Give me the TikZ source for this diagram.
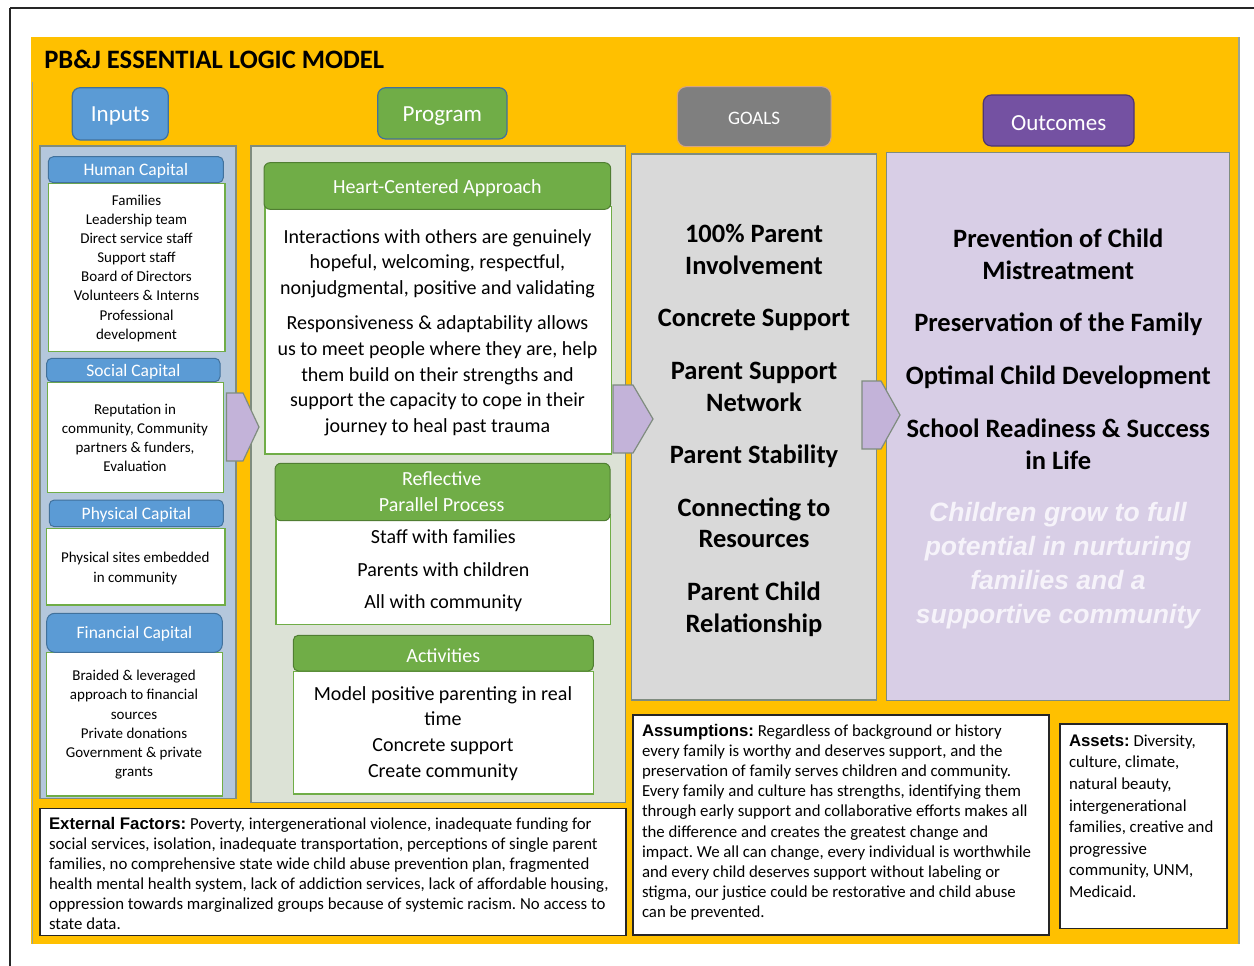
\documentclass[tikz,border=0pt]{standalone}
\usepackage{fontspec}
\setmainfont{Carlito}
\newfontfamily\arialfont{Liberation Sans}
\frenchspacing

\definecolor{bgyellow}{HTML}{FFC000}
\definecolor{blueA}{HTML}{5B9BD5}
\definecolor{blueB}{HTML}{41719C}
\definecolor{greenA}{HTML}{70AD47}
\definecolor{greenB}{HTML}{507E32}
\definecolor{panelIn}{HTML}{B4C7DC}
\definecolor{panelProg}{HTML}{DCE2D6}
\definecolor{panelGoal}{HTML}{D9D9D9}
\definecolor{panelOut}{HTML}{D8CEE6}
\definecolor{panelEdge}{HTML}{7F8C7F}
\definecolor{chevFill}{HTML}{C3B3D9}
\definecolor{greyBtn}{HTML}{7F7F7F}
\definecolor{greyBtnEdge}{HTML}{D8A47E}
\definecolor{purpleBtn}{HTML}{7451A2}
\definecolor{purpleBtnEdge}{HTML}{4F3573}
\definecolor{softwhite}{HTML}{F6F3FA}

% box given by its two corners: name, style, x1, y1, x2, y2
\newcommand\rectnode[6]{%
  \node[#2, anchor=north west, minimum width={#5-#3}, minimum height={#6-#4}] (#1) at (#3,#4) {};}

\begin{document}
\begin{tikzpicture}[x=1pt, y=-1pt,
  every node/.style={inner sep=0pt, outer sep=0pt},
  panel/.style={draw=panelEdge, line width=1.5pt},
  bluehead/.style={draw=blueB, fill=blueA, line width=1pt, rounded corners=5pt},
  greenhead/.style={draw=greenB, fill=greenA, line width=1pt, rounded corners=6pt},
  headlabel/.style={text=white, font=\fontsize{17.5}{21}\selectfont, yshift=-1.5pt},
  biglabel/.style={text=white, font=\fontsize{#1}{24}\selectfont, yshift=-2.5pt},
  content/.style={draw=greenA, fill=white, line width=1.2pt},
  note/.style={draw=black!85, fill=white, line width=1.3pt},
  chevron/.style={draw=panelEdge, fill=chevFill, line width=1.2pt},
  blk/.style={align=center, anchor=north},
  smalltxt/.style={blk, font=\fontsize{15}{#1}\selectfont},
  bigtxt/.style={blk, font=\fontsize{20}{#1}\selectfont},
  goaltxt/.style={blk, font=\fontsize{26.5}{#1}\selectfont\bfseries},
  notetxt/.style={align=left, anchor=north west, font=\fontsize{16.8}{#1}\selectfont},
]
\useasboundingbox (0,0) rectangle (1254,966);

% outer frame and yellow sheet
\draw[line width=2pt, black!85] (10,8.5) -- (1254,8.5);
\draw[line width=2pt, black!85] (10,8.5) -- (10,966);
\rectnode{sheet}{fill=bgyellow}{31}{37}{1239}{944}
\draw[panelEdge!80, line width=1.2pt] (32.3,81.7) -- (32.3,944);
\draw[panelEdge!80, line width=1.5pt] (1239,37) -- (1239,944);

\node[anchor=base west, font=\fontsize{26.6}{30}\selectfont\bfseries] (title) at (44.3,68.3) {PB\&J ESSENTIAL LOGIC MODEL};

% column buttons
\rectnode{bInputs}{draw=blueB, fill=blueA, line width=1.2pt, rounded corners=8pt}{72.3}{87.7}{168.3}{140}
\node[biglabel=23] at (bInputs.center) {Inputs};
\rectnode{bProgram}{draw=blueB, fill=greenA, line width=1.2pt, rounded corners=8pt}{377.7}{87.7}{507}{139}
\node[biglabel=23] at (bProgram.center) {Program};
\rectnode{bGoals}{draw=greyBtnEdge, fill=greyBtn, line width=1pt, rounded corners=9pt}{677.3}{86.7}{831}{146.7}
\node[biglabel=19, yshift=1pt] at (bGoals.center) {GOALS};
\rectnode{bOutcomes}{draw=purpleBtnEdge, fill=purpleBtn, line width=1.2pt, rounded corners=8pt}{983.3}{95}{1134}{146}
\node[biglabel=23] at (bOutcomes.center) {Outcomes};

% ---------------- Inputs column ----------------
\rectnode{pInputs}{panel, fill=panelIn}{40}{146}{236}{798.3}

\rectnode{hcBox}{content}{48.3}{183.3}{225}{351.7}
\rectnode{hcHead}{bluehead}{48.3}{156.7}{223.3}{182.7}
\node[headlabel] at (hcHead.center) {Human Capital};
\node[smalltxt=19.1] (hcText) at (136.5,192.1) {\strut Families\\Leadership team\\Direct service staff\\Support staff\\Board of Directors\\Volunteers \& Interns\\Professional\\development};

\rectnode{scBox}{content}{47.3}{382.3}{223.3}{492.7}
\rectnode{scHead}{bluehead}{46.7}{358.3}{220}{381.7}
\node[headlabel] at (scHead.center) {Social Capital};
\node[smalltxt=19] (scText) at (135,400.7) {\strut Reputation in\\community, Community\\partners \& funders,\\Evaluation};

\rectnode{pcBox}{content}{46.7}{528.3}{225}{605}
\rectnode{pcHead}{bluehead}{49.3}{500}{223.3}{526.7}
\node[headlabel] at (pcHead.center) {Physical Capital};
\node[smalltxt=20] (pcText) at (135.3,548.7) {\strut Physical sites embedded\\in community};

\rectnode{fcBox}{content}{46.7}{652.3}{222.3}{796}
\rectnode{fcHead}{bluehead, rounded corners=8pt}{46.7}{613.3}{222.3}{652.3}
\node[headlabel] at (fcHead.center) {Financial Capital};
\node[smalltxt=19.2] (fcText) at (134,667.3) {\strut Braided \& leveraged\\approach to financial\\sources\\Private donations\\Government \& private\\grants};

% ---------------- Program column ----------------
\rectnode{pProgram}{panel, fill=panelProg}{251}{146}{625.7}{802.7}

\rectnode{hcaBox}{content}{265}{206.7}{611.7}{454}
\rectnode{hcaHead}{greenhead}{264}{162.7}{610.7}{209.3}
\node[biglabel=20] at (hcaHead.center) {Heart-Centered Approach};
\node[bigtxt=25.6] (hcaText) at (437.5,225.3) {\strut Interactions with others are genuinely\\hopeful, welcoming, respectful,\\nonjudgmental, positive and validating\\[9.8pt]Responsiveness \& adaptability allows\\us to meet people where they are, help\\them build on their strengths and\\support the capacity to cope in their\\journey to heal past trauma};

\rectnode{rppBox}{content}{276}{515}{610.7}{624.3}
\rectnode{rppHead}{greenhead}{275}{463.3}{610}{520.7}
\node[blk, text=white, font=\fontsize{20}{26}\selectfont] (rppTitle) at (441.7,467.3) {\strut Reflective\\Parallel Process};
\node[bigtxt=32.4] (rppText) at (443.3,521.1) {\strut Staff with families\\Parents with children\\All with community};

\rectnode{actBox}{content}{293.3}{671.7}{593.3}{794}
\rectnode{actHead}{greenhead, rounded corners=5pt}{293.3}{635.3}{593.3}{671}
\node[biglabel=20] at (actHead.center) {Activities};
\node[bigtxt=25.8] (actText) at (443,682) {\strut Model positive parenting in real\\time\\Concrete support\\Create community};

% ---------------- Goals column ----------------
\rectnode{pGoals}{panel, fill=panelGoal}{631.7}{154}{876.7}{700}
\node[goaltxt=31.7] (goalText) at (754,220.6) {\strut 100\% Parent\\Involvement\\[20.8pt]Concrete Support\\[20.8pt]Parent Support\\Network\\[20.8pt]Parent Stability\\[20.8pt]Connecting to\\Resources\\[20.8pt]Parent Child\\Relationship};

% ---------------- Outcomes column ----------------
\rectnode{pOutcomes}{panel, fill=panelOut}{886.7}{152.7}{1229.3}{700.7}
\node[goaltxt=31.8] (outText) at (1058.3,225) {\strut Prevention of Child\\Mistreatment\\[21pt]Preservation of the Family\\[21pt]Optimal Child Development\\[21pt]School Readiness \& Success\\in Life};
\node[blk, text=softwhite, font=\arialfont\fontsize{26.5}{34.2}\selectfont\bfseries\itshape] (vision) at (1058,497.4) {\strut Children grow to full\\potential in nurturing\\families and a\\supportive community};

% ---------------- flow chevrons ----------------
\draw[chevron] (226.5,393) -- (243,393) -- (259,427) -- (243,461) -- (226.5,461) -- cycle;
\draw[chevron] (613,385) -- (633,385) -- (653,419) -- (633,453) -- (613,453) -- cycle;
\draw[chevron] (862,381) -- (881,381) -- (900,415) -- (881,449) -- (862,449) -- cycle;

% ---------------- notes ----------------
\rectnode{extBox}{note}{40}{808.3}{626}{935.3}
\node[notetxt=19.9] (extText) at (49,816) {\strut{\arialfont\bfseries External Factors:} Poverty, intergenerational violence, inadequate funding for\\social services, isolation, inadequate transportation, perceptions of single parent\\families, no comprehensive state wide child abuse prevention plan, fragmented\\health mental health system, lack of addiction services, lack of affordable housing,\\oppression towards marginalized groups because of systemic racism. No access to\\state data.};

\rectnode{assumBox}{note}{633}{715}{1049}{935}
\node[notetxt=20.15] (assumText) at (642,722.2) {\strut{\arialfont\bfseries Assumptions:} Regardless of background or history\\every family is worthy and deserves support, and the\\preservation of family serves children and community.\\Every family and culture has strengths, identifying them\\through early support and collaborative efforts makes all\\the difference and creates the greatest change and\\impact. We all can change, every individual is worthwhile\\and every child deserves support without labeling or\\stigma, our justice could be restorative and child abuse\\can be prevented.};

\rectnode{assetBox}{note}{1060}{724}{1227}{928.3}
\node[notetxt=21.6] (assetText) at (1069,731.2) {\strut{\arialfont\bfseries Assets:} Diversity,\\culture, climate,\\natural beauty,\\intergenerational\\families, creative and\\progressive\\community, UNM,\\Medicaid.};

\end{tikzpicture}
\end{document}
